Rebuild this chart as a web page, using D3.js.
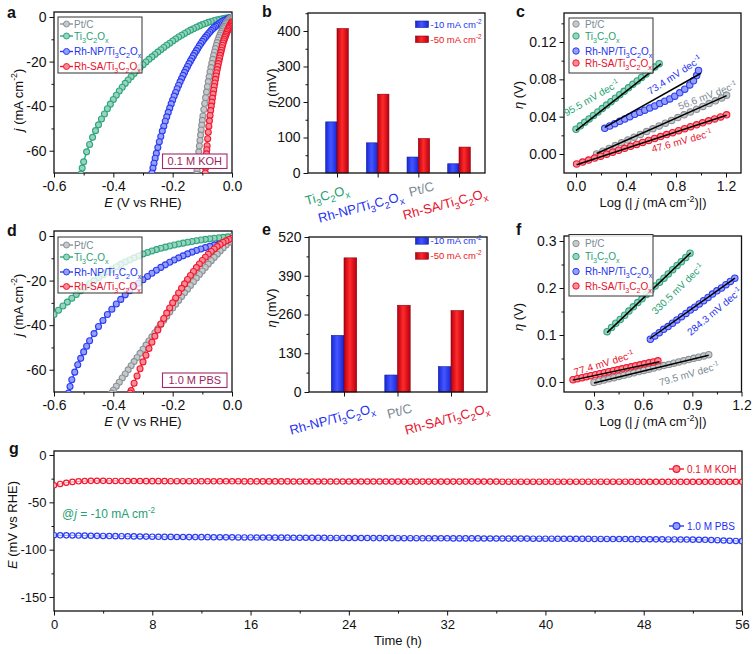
<!DOCTYPE html>
<html><head><meta charset="utf-8">
<script src="https://cdn.jsdelivr.net/npm/d3@7"></script>
<style>body{margin:0;background:#fff}svg{display:block}text{font-family:"Liberation Sans",Arial,sans-serif}</style>
</head><body><svg id="chart" width="756" height="654"></svg>
<script>
// ---------------- DATA ----------------
const seriesKeys = ["pt","ti","np","sa"];
const seriesNames = {pt:"Pt/C", ti:"Ti_{3}C_{2}O_{x}", np:"Rh-NP/Ti_{3}C_{2}O_{x}", sa:"Rh-SA/Ti_{3}C_{2}O_{x}"};
// panel a: LSV in 0.1 M KOH  [E (V), j (mA cm-2)]
const aPt=[[-0.002,-0.3],[-0.005,-0.6],[-0.008,-0.9],[-0.011,-1.3],[-0.014,-1.8],[-0.017,-2.3],[-0.020,-2.9],[-0.023,-3.5],[-0.026,-4.2],[-0.029,-4.9],[-0.032,-5.7],[-0.035,-6.5],[-0.038,-7.3],[-0.041,-8.2],[-0.044,-9.2],[-0.047,-10.3],[-0.050,-11.5],[-0.053,-12.8],[-0.056,-14.2],[-0.059,-15.7],[-0.062,-17.3],[-0.065,-19.0],[-0.068,-20.8],[-0.071,-22.7],[-0.074,-24.7],[-0.077,-26.8],[-0.080,-29.0],[-0.083,-31.3],[-0.086,-33.7],[-0.089,-36.2],[-0.092,-38.8],[-0.095,-41.5],[-0.098,-44.4],[-0.100,-46.4],[-0.102,-48.5],[-0.104,-50.7],[-0.106,-53.0],[-0.108,-55.4],[-0.110,-57.9],[-0.112,-60.5],[-0.114,-63.2],[-0.116,-66.0],[-0.118,-68.9],[-0.119,-70.5]];
const aTi=[[0,-0.1],[-0.01,-0.3],[-0.02,-0.5],[-0.03,-0.75],[-0.04,-1.0],[-0.05,-1.3],[-0.06,-1.6],[-0.07,-2.0],[-0.08,-2.4],[-0.09,-2.9],[-0.10,-3.4],[-0.11,-4.0],[-0.12,-4.6],[-0.13,-5.25],[-0.14,-5.9],[-0.15,-6.65],[-0.16,-7.4],[-0.17,-8.2],[-0.18,-9.0],[-0.19,-9.9],[-0.20,-10.8],[-0.21,-11.75],[-0.22,-12.7],[-0.23,-13.7],[-0.24,-14.7],[-0.25,-15.75],[-0.26,-16.8],[-0.27,-17.9],[-0.28,-19.0],[-0.29,-20.2],[-0.30,-21.4],[-0.31,-22.7],[-0.32,-24.0],[-0.33,-25.4],[-0.34,-26.8],[-0.35,-28.3],[-0.36,-29.8],[-0.37,-31.5],[-0.38,-33.2],[-0.39,-35.1],[-0.40,-37.0],[-0.41,-39.1],[-0.42,-41.2],[-0.43,-43.5],[-0.44,-45.8],[-0.45,-48.4],[-0.46,-51.0],[-0.47,-54.0],[-0.48,-57.2],[-0.49,-60.5],[-0.50,-65.0],[-0.505,-67.8],[-0.509,-70.5]];
const aNP=[[-0.005,-0.3],[-0.010,-0.55],[-0.015,-0.8],[-0.020,-1.1],[-0.025,-1.4],[-0.030,-1.75],[-0.035,-2.1],[-0.040,-2.55],[-0.045,-3.0],[-0.050,-3.55],[-0.055,-4.1],[-0.060,-4.7],[-0.065,-5.3],[-0.070,-6.0],[-0.075,-6.7],[-0.080,-7.5],[-0.085,-8.3],[-0.090,-9.15],[-0.095,-10.0],[-0.100,-10.95],[-0.105,-11.9],[-0.110,-12.95],[-0.115,-14.0],[-0.120,-15.1],[-0.125,-16.2],[-0.130,-17.35],[-0.135,-18.5],[-0.140,-19.7],[-0.145,-20.9],[-0.150,-22.2],[-0.155,-23.5],[-0.160,-24.85],[-0.165,-26.2],[-0.170,-27.65],[-0.175,-29.1],[-0.180,-30.65],[-0.185,-32.2],[-0.190,-33.85],[-0.195,-35.5],[-0.200,-37.25],[-0.205,-39.0],[-0.210,-40.9],[-0.215,-42.8],[-0.220,-44.8],[-0.225,-46.8],[-0.230,-49.0],[-0.235,-51.2],[-0.240,-53.6],[-0.245,-56.0],[-0.250,-58.6],[-0.255,-61.2],[-0.259,-63.4],[-0.263,-65.6],[-0.2665,-67.8],[-0.270,-70.0]];
const aSA=[[0.000,-2.2],[-0.002,-2.6],[-0.004,-3.1],[-0.006,-3.6],[-0.008,-4.1],[-0.010,-4.7],[-0.012,-5.2],[-0.014,-5.8],[-0.016,-6.4],[-0.018,-7.1],[-0.020,-7.8],[-0.022,-8.5],[-0.024,-9.2],[-0.026,-10.0],[-0.028,-10.8],[-0.030,-11.7],[-0.032,-12.7],[-0.034,-13.8],[-0.036,-14.9],[-0.038,-16.0],[-0.040,-17.2],[-0.042,-18.4],[-0.044,-19.6],[-0.046,-20.9],[-0.048,-22.2],[-0.050,-23.6],[-0.052,-25.0],[-0.054,-26.5],[-0.056,-28.0],[-0.058,-29.6],[-0.060,-31.2],[-0.062,-32.9],[-0.064,-34.6],[-0.066,-36.4],[-0.068,-38.2],[-0.070,-40.0],[-0.072,-42.0],[-0.074,-44.2],[-0.076,-46.6],[-0.078,-49.0],[-0.080,-51.7],[-0.082,-54.6],[-0.084,-57.8],[-0.085,-59.6],[-0.086,-61.4],[-0.087,-63.4],[-0.088,-65.4],[-0.089,-67.6],[-0.090,-70.0]];
// panel b: overpotentials (mV) in 0.1 M KOH
const bCats=["ti","np","pt","sa"];
const b10=[144,85,45,26];
const b50=[407,222,97,73];
// panel c: Tafel, 0.1 M KOH [log|j|, eta (V)]
const cPt=[[0.165,0.000],[0.215,0.003],[0.265,0.006],[0.315,0.009],[0.365,0.012],[0.415,0.015],[0.465,0.018],[0.515,0.021],[0.565,0.024],[0.615,0.027],[0.665,0.030],[0.715,0.033],[0.765,0.036],[0.815,0.039],[0.865,0.042],[0.915,0.045],[0.965,0.048],[1.015,0.051],[1.065,0.054],[1.115,0.057],[1.165,0.060],[1.205,0.063]];
const cTi=[[0,0.0265],[0.035,0.0302],[0.07,0.0339],[0.105,0.0376],[0.14,0.0413],[0.175,0.045],[0.21,0.0487],[0.245,0.0524],[0.28,0.0561],[0.315,0.0598],[0.35,0.0635],[0.385,0.0672],[0.42,0.0709],[0.455,0.0746],[0.49,0.0783],[0.525,0.082],[0.56,0.0857],[0.595,0.0894],[0.63,0.0931],[0.665,0.0968]];
const cNP=[[0.23,0.0275],[0.27,0.030],[0.31,0.0325],[0.35,0.035],[0.39,0.0375],[0.43,0.040],[0.47,0.0425],[0.51,0.0447],[0.55,0.047],[0.59,0.0492],[0.63,0.0515],[0.67,0.054],[0.71,0.0565],[0.75,0.059],[0.79,0.062],[0.83,0.0655],[0.87,0.0695],[0.91,0.074],[0.94,0.0785],[0.965,0.084],[0.98,0.0895]];
const cSA=[[0.005,-0.0107],[0.053,-0.0086],[0.101,-0.0065],[0.149,-0.0044],[0.197,-0.0023],[0.245,-0.0002],[0.293,0.0019],[0.341,0.0040],[0.389,0.0061],[0.437,0.0082],[0.485,0.0103],[0.533,0.0124],[0.581,0.0145],[0.629,0.0166],[0.677,0.0187],[0.725,0.0208],[0.773,0.0229],[0.821,0.0250],[0.869,0.0271],[0.917,0.0292],[0.965,0.0313],[1.013,0.0334],[1.061,0.0355],[1.109,0.0376],[1.157,0.0397],[1.205,0.0420]];
const cFits={pt:[[0.165,0.0005],[1.205,0.0625]], ti:[[0.0,0.025],[0.68,0.0965]], np:[[0.23,0.0285],[1.0,0.0865]], sa:[[0.005,-0.0115],[1.205,0.0415]]};
const cSlopes={ti:"95.5", np:"73.4", pt:"56.6", sa:"47.6"};
// panel d: LSV in 1.0 M PBS
const dPt=[[0,-1.5],[-0.01,-2.75],[-0.02,-4.0],[-0.03,-5.35],[-0.04,-6.7],[-0.05,-8.15],[-0.06,-9.6],[-0.07,-11.1],[-0.08,-12.6],[-0.09,-14.15],[-0.10,-15.7],[-0.11,-17.3],[-0.12,-18.9],[-0.13,-20.55],[-0.14,-22.2],[-0.15,-23.85],[-0.16,-25.5],[-0.17,-27.2],[-0.18,-28.9],[-0.19,-30.6],[-0.20,-32.3],[-0.21,-34.15],[-0.22,-36.0],[-0.23,-37.85],[-0.24,-39.7],[-0.25,-41.55],[-0.26,-43.4],[-0.27,-45.25],[-0.28,-47.1],[-0.29,-48.95],[-0.30,-50.8],[-0.31,-52.65],[-0.32,-54.5],[-0.33,-56.35],[-0.34,-58.2],[-0.35,-60.05],[-0.36,-61.9],[-0.37,-63.75],[-0.38,-65.6],[-0.39,-67.4],[-0.40,-69.2],[-0.406,-70.5]];
const dTi=[[0,-0.2],[-0.015,-0.4],[-0.03,-0.6],[-0.045,-0.8],[-0.06,-1.0],[-0.075,-1.25],[-0.09,-1.5],[-0.105,-1.8],[-0.12,-2.1],[-0.135,-2.45],[-0.15,-2.8],[-0.165,-3.2],[-0.18,-3.6],[-0.195,-4.05],[-0.21,-4.5],[-0.225,-5.0],[-0.24,-5.5],[-0.255,-6.1],[-0.27,-6.7],[-0.285,-7.4],[-0.30,-8.1],[-0.315,-8.95],[-0.33,-9.8],[-0.345,-10.75],[-0.36,-11.7],[-0.375,-12.75],[-0.39,-13.8],[-0.405,-14.95],[-0.42,-16.1],[-0.435,-17.4],[-0.45,-18.7],[-0.465,-20.1],[-0.48,-21.5],[-0.495,-23.05],[-0.51,-24.6],[-0.525,-26.25],[-0.54,-27.9],[-0.555,-29.65],[-0.57,-31.4],[-0.585,-33.3],[-0.60,-35.2]];
const dNP=[[-0.005,-2.5],[-0.015,-2.8],[-0.03,-3.2],[-0.045,-3.65],[-0.06,-4.1],[-0.075,-4.65],[-0.09,-5.2],[-0.105,-5.85],[-0.12,-6.5],[-0.135,-7.25],[-0.15,-8.0],[-0.165,-8.9],[-0.18,-9.8],[-0.195,-10.8],[-0.21,-11.8],[-0.225,-12.95],[-0.24,-14.1],[-0.255,-15.4],[-0.27,-16.7],[-0.285,-18.15],[-0.30,-19.6],[-0.315,-21.2],[-0.33,-22.8],[-0.345,-24.6],[-0.36,-26.4],[-0.375,-28.45],[-0.39,-30.5],[-0.405,-32.85],[-0.42,-35.2],[-0.435,-37.9],[-0.45,-40.6],[-0.465,-43.8],[-0.48,-47.0],[-0.49,-49.5],[-0.50,-52.0],[-0.51,-54.9],[-0.52,-57.8],[-0.53,-61.1],[-0.54,-64.5],[-0.546,-67.5],[-0.551,-70.5]];
const dSA=[[0,-1.0],[-0.01,-1.55],[-0.02,-2.2],[-0.03,-2.95],[-0.04,-3.8],[-0.05,-4.75],[-0.06,-5.8],[-0.07,-6.95],[-0.08,-8.2],[-0.09,-9.55],[-0.10,-11.0],[-0.11,-12.55],[-0.12,-14.2],[-0.13,-15.9],[-0.14,-17.7],[-0.15,-19.55],[-0.16,-21.5],[-0.17,-23.5],[-0.18,-25.6],[-0.19,-27.8],[-0.20,-30.0],[-0.21,-32.3],[-0.22,-34.6],[-0.23,-37.0],[-0.24,-39.5],[-0.25,-42.2],[-0.26,-45.0],[-0.27,-47.7],[-0.28,-50.5],[-0.29,-53.5],[-0.30,-56.5],[-0.31,-59.6],[-0.32,-62.8],[-0.33,-66.1],[-0.34,-69.4],[-0.343,-70.5]];
// panel e: overpotentials (mV) in 1.0 M PBS
const eCats=["np","pt","sa"];
const e10=[190,57,85];
const e50=[450,291,273];
// panel f: Tafel, 1.0 M PBS
const fPt=[[0.30,-0.001],[0.33,0.0016],[0.361,0.0041],[0.391,0.0067],[0.422,0.0093],[0.452,0.0118],[0.483,0.0144],[0.513,0.017],[0.543,0.0195],[0.574,0.0221],[0.604,0.0247],[0.635,0.0272],[0.665,0.0298],[0.696,0.0324],[0.726,0.035],[0.757,0.0375],[0.787,0.0401],[0.817,0.0427],[0.848,0.0452],[0.878,0.0478],[0.909,0.0504],[0.939,0.0529],[0.97,0.0555],[1.0,0.058]];
const fTi=[[0.38,0.107],[0.407,0.116],[0.433,0.125],[0.46,0.133],[0.487,0.142],[0.513,0.151],[0.54,0.160],[0.567,0.169],[0.593,0.177],[0.62,0.186],[0.647,0.195],[0.673,0.204],[0.70,0.212],[0.727,0.221],[0.753,0.230],[0.78,0.239],[0.807,0.248],[0.833,0.256],[0.86,0.265],[0.886,0.274]];
const fNP=[[0.644,0.091],[0.671,0.098],[0.698,0.105],[0.725,0.112],[0.752,0.118],[0.779,0.125],[0.806,0.132],[0.834,0.139],[0.861,0.146],[0.888,0.153],[0.915,0.159],[0.942,0.166],[0.969,0.173],[0.996,0.180],[1.023,0.187],[1.05,0.194],[1.078,0.200],[1.105,0.207],[1.132,0.214],[1.159,0.221]];
const fSA=[[0.172,0.005],[0.199,0.0071],[0.227,0.0092],[0.254,0.0113],[0.281,0.0134],[0.309,0.0155],[0.336,0.0176],[0.363,0.0197],[0.39,0.0218],[0.418,0.0239],[0.445,0.026],[0.472,0.0281],[0.499,0.0302],[0.527,0.0323],[0.554,0.0344],[0.581,0.0365],[0.608,0.0386],[0.636,0.0407],[0.663,0.0428],[0.69,0.045]];
const fFits={pt:[[0.30,-0.002],[1.0,0.057]], ti:[[0.38,0.105],[0.89,0.275]], np:[[0.64,0.092],[1.16,0.221]], sa:[[0.17,0.004],[0.70,0.043]]};
const fSlopes={ti:"330.5", np:"284.3", sa:"77.4", pt:"79.5"};
// panel g: chronopotentiometry @ -10 mA cm-2
const gTime=[0,0.5,1,1.5,2,2.5,3,3.5,4,4.5,5,5.5,6,6.5,7,7.5,8,8.5,9,9.5,10,10.5,11,11.5,12,12.5,13,13.5,14,14.5,15,15.5,16,16.5,17,17.5,18,18.5,19,19.5,20,20.5,21,21.5,22,22.5,23,23.5,24,24.5,25,25.5,26,26.5,27,27.5,28,28.5,29,29.5,30,30.5,31,31.5,32,32.5,33,33.5,34,34.5,35,35.5,36,36.5,37,37.5,38,38.5,39,39.5,40,40.5,41,41.5,42,42.5,43,43.5,44,44.5,45,45.5,46,46.5,47,47.5,48,48.5,49,49.5,50,50.5,51,51.5,52,52.5,53,53.5,54,54.5,55,55.5,56];
const gKOH=[-32.0,-30.6,-29.3,-28.4,-27.8,-27.5,-27.3,-27.3,-27.3,-27.4,
-27.4,-27.4,-27.5,-27.5,-27.5,-27.6,-27.6,-27.6,-27.6,-27.7,
-27.7,-27.7,-27.7,-27.7,-27.8,-27.8,-27.8,-27.8,-27.8,-27.8,
-27.8,-27.9,-27.9,-27.9,-27.9,-27.9,-27.9,-27.9,-27.9,-28.0,
-28.0,-28.0,-28.0,-28.0,-28.0,-28.0,-28.0,-28.0,-28.0,-28.0,
-28.0,-28.0,-28.0,-28.0,-28.0,-28.1,-28.1,-28.1,-28.1,-28.1,
-28.1,-28.1,-28.1,-28.1,-28.1,-28.1,-28.1,-28.1,-28.1,-28.1,
-28.1,-28.1,-28.1,-28.2,-28.2,-28.2,-28.2,-28.2,-28.2,-28.2,
-28.2,-28.2,-28.2,-28.2,-28.2,-28.2,-28.2,-28.2,-28.2,-28.2,
-28.2,-28.2,-28.2,-28.2,-28.3,-28.3,-28.3,-28.3,-28.3,-28.3,
-28.3,-28.3,-28.3,-28.3,-28.3,-28.3,-28.3,-28.3,-28.3,-28.3,
-28.3,-28.3,-28.3];
const gPBS=[-84.7,-84.8,-84.9,-85.0,-85.1,-85.2,-85.3,-85.4,-85.5,-85.6,
-85.7,-85.8,-85.9,-86.0,-86.1,-86.2,-86.3,-86.4,-86.5,-86.5,
-86.6,-86.6,-86.7,-86.7,-86.8,-86.8,-86.9,-86.9,-87.0,-87.0,
-87.1,-87.1,-87.1,-87.2,-87.2,-87.2,-87.3,-87.3,-87.3,-87.4,
-87.4,-87.4,-87.5,-87.5,-87.5,-87.6,-87.6,-87.6,-87.7,-87.7,
-87.7,-87.7,-87.8,-87.8,-87.8,-87.8,-87.9,-87.9,-87.9,-87.9,
-88.0,-88.0,-88.0,-88.0,-88.0,-88.1,-88.1,-88.1,-88.1,-88.1,
-88.2,-88.2,-88.2,-88.2,-88.3,-88.3,-88.3,-88.3,-88.4,-88.4,
-88.4,-88.4,-88.5,-88.5,-88.5,-88.6,-88.6,-88.6,-88.7,-88.7,
-88.7,-88.8,-88.8,-88.8,-88.9,-88.9,-89.0,-89.0,-89.1,-89.1,
-89.2,-89.2,-89.3,-89.3,-89.4,-89.5,-89.6,-89.8,-90.0,-90.3,
-90.6,-90.8,-91.0];

// ---------------- STYLE ----------------
const col = {pt:"#8b9296", ti:"#2ea67c", np:"#2b3cf2", sa:"#f2172f"};
const tcol = {pt:"#7a8a93", ti:"#1f9f73", np:"#1d30f0", sa:"#e8102c"};
const FONT = '"Liberation Sans", Arial, sans-serif';
const svg = d3.select("#chart");
svg.append("rect").attr("width",756).attr("height",654).attr("fill","#fff");
const defs = svg.append("defs");
const light = c => d3.interpolateRgb(c, "#ffffff")(0.5);
const noMinus = f => { const fm = d3.format(f); return v => fm(v).replace("\u2212","-"); };

function rich(textSel, str, fs) {
  const parts = str.split(/(\*[^*]+\*|_\{[^}]*\}|\^\{[^}]*\})/g).filter(s => s !== "");
  let shift = 0;
  parts.forEach(p => {
    let t = p, dy = 0, size = null, it = false;
    if (p.startsWith("*")) { t = p.slice(1,-1); it = true; }
    else if (p.startsWith("_{")) { t = p.slice(2,-1); size = fs*0.72; dy = fs*0.3; }
    else if (p.startsWith("^{")) { t = p.slice(2,-1); size = fs*0.68; dy = -fs*0.4; }
    const ts = textSel.append("tspan").text(t);
    if (dy - shift !== 0) ts.attr("dy", dy - shift);
    shift = dy;
    if (size) ts.attr("font-size", size);
    if (it) ts.attr("font-style", "italic");
  });
  return textSel;
}
function label(g, str, x, y, o={}) {
  const fs = o.fs || 13;
  const t = g.append("text").attr("font-family", FONT).attr("font-size", fs)
    .attr("fill", o.fill || "#111").attr("text-anchor", o.anchor || "middle")
    .attr("font-weight", o.bold ? "bold" : null);
  if (o.rot != null) t.attr("transform", `translate(${x},${y}) rotate(${o.rot})`);
  else t.attr("x", x).attr("y", y);
  if (o.dy) t.attr("dy", o.dy);
  rich(t, str, fs);
  return t;
}
function axes(g, x, y, o) {
  const [l,t,r,b] = o.frame;
  const fs = o.fs || 14;
  g.append("g").attr("transform", `translate(0,${b})`)
    .call(d3.axisBottom(x).tickValues(o.xMaj).tickSize(4.5).tickPadding(4).tickFormat(o.xf || ""));
  if (o.xMin) g.append("g").attr("transform", `translate(0,${b})`)
    .call(d3.axisBottom(x).tickValues(o.xMin).tickSize(2.5).tickFormat(""));
  g.append("g").attr("transform", `translate(${l},0)`)
    .call(d3.axisLeft(y).tickValues(o.yMaj).tickSize(4.5).tickPadding(3).tickFormat(o.yf));
  if (o.yMin) g.append("g").attr("transform", `translate(${l},0)`)
    .call(d3.axisLeft(y).tickValues(o.yMin).tickSize(2.5).tickFormat(""));
  g.selectAll(".domain").remove();
  g.selectAll(".tick line").attr("stroke", "#111").attr("stroke-width", 1);
  g.selectAll(".tick text").attr("font-size", fs).attr("font-family", FONT).attr("fill", "#111");
  g.append("rect").attr("x", l).attr("y", t).attr("width", r-l).attr("height", b-t)
    .attr("fill", "none").attr("stroke", "#111").attr("stroke-width", 1.3);
}
let clipN = 0;
function clip(g, frame) {
  const id = "clip" + (clipN++);
  const [l,t,r,b] = frame;
  defs.append("clipPath").attr("id", id).append("rect").attr("x", l).attr("y", t).attr("width", r-l).attr("height", b-t);
  return g.append("g").attr("clip-path", `url(#${id})`);
}
function series(g, data, x, y, key, r, withLine) {
  if (withLine) g.append("path").datum(data)
    .attr("d", d3.line().x(d => x(d[0])).y(d => y(d[1])))
    .attr("fill", "none").attr("stroke", col[key]).attr("stroke-width", 1.4);
  g.append("g").selectAll("circle").data(data).join("circle")
    .attr("cx", d => x(d[0])).attr("cy", d => y(d[1])).attr("r", r)
    .attr("fill", light(col[key])).attr("stroke", col[key]).attr("stroke-width", 1.1);
}
function lsvLegend(g, x0, y0, rows) {
  g.append("rect").attr("x", x0).attr("y", y0).attr("width", 84).attr("height", 56)
    .attr("fill", "#fff").attr("fill-opacity", 0.78).attr("stroke", "#333").attr("stroke-width", 1);
  seriesKeys.forEach((k, i) => {
    const yy = y0 + rows[i];
    g.append("line").attr("x1", x0+2).attr("x2", x0+15).attr("y1", yy).attr("y2", yy).attr("stroke", col[k]).attr("stroke-width", 1.4);
    g.append("circle").attr("cx", x0+8.5).attr("cy", yy).attr("r", 3).attr("fill", light(col[k])).attr("stroke", col[k]);
    label(g, seriesNames[k], x0+16, yy+3.5, {fs:10, fill:tcol[k], anchor:"start"});
  });
}
function tafelLegend(g, x0, y0, rows) {
  g.append("rect").attr("x", x0).attr("y", y0).attr("width", 84).attr("height", rows[3]+10)
    .attr("fill", "#fff").attr("fill-opacity", 0.85).attr("stroke", "#333").attr("stroke-width", 1);
  seriesKeys.forEach((k, i) => {
    const yy = y0 + rows[i];
    g.append("circle").attr("cx", x0+7).attr("cy", yy).attr("r", 3.2).attr("fill", light(col[k])).attr("stroke", col[k]);
    label(g, seriesNames[k], x0+16, yy+3.5, {fs:10, fill:tcol[k], anchor:"start"});
  });
}
function barLegend(g, x0, y0, dy) {
  [["-10 mA cm^{-2}", "#2236f0"], ["-50 mA cm^{-2}", "#ee1520"]].forEach((d, i) => {
    g.append("rect").attr("x", x0).attr("y", y0 + i*dy).attr("width", 13).attr("height", 6.5)
      .attr("fill", i ? "url(#gRed)" : "url(#gBlue)").attr("stroke", i ? "#8a0010" : "#10208a").attr("stroke-width", 0.6);
    label(g, d[0], x0+15, y0 + i*dy + 6.5, {fs:9.5, fill:d[1], anchor:"start"});
  });
}
[["gBlue","#1526d8","#4556ff"],["gRed","#b80010","#ff2a2a"]].forEach(([id,a,b]) => {
  const lg = defs.append("linearGradient").attr("id", id).attr("x1","0").attr("x2","1").attr("y1","0").attr("y2","0");
  lg.append("stop").attr("offset","0%").attr("stop-color",a);
  lg.append("stop").attr("offset","45%").attr("stop-color",b);
  lg.append("stop").attr("offset","100%").attr("stop-color",a);
});

// ---------- LSV panels (a, d) ----------
function lsvPanel(frame, yRange, data, legendY, legendRows, boxText, boxY) {
  const g = svg.append("g");
  const x = d3.scaleLinear().domain([-0.6, 0]).range([frame[0], frame[2]]);
  const y = d3.scaleLinear().domain([-70, 0]).range(yRange);
  axes(g, x, y, {frame, xMaj:[-0.6,-0.4,-0.2,0], xMin:[-0.5,-0.3,-0.1], yMaj:[-60,-40,-20,0], yMin:[-50,-30,-10],
    xf: noMinus(".1f"), yf: noMinus("d")});
  const cg = clip(g, frame);
  ["ti","np","pt","sa"].forEach(k => series(cg, data[k], x, y, k, 3, true));
  lsvLegend(g, frame[0]+4, legendY, legendRows);
  g.append("rect").attr("x", 162.5).attr("y", boxY).attr("width", 64.5).attr("height", 14.5)
    .attr("fill", "#fff").attr("stroke", "#a3286a").attr("stroke-width", 1.1);
  label(g, boxText, 194.8, boxY + 11.2, {fs:11, fill:"#9a1f60"});
  return g;
}
lsvPanel([54,12,232,173], [173,17], {pt:aPt, ti:aTi, np:aNP, sa:aSA}, 17, [7,19,34.5,49.5], "0.1 M KOH", 154);
lsvPanel([54,231,232,392], [392,236], {pt:dPt, ti:dTi, np:dNP, sa:dSA}, 237, [8,20,35,49.5], "1.0 M PBS", 373);

// ---------- bar panels (b, e) ----------
function barPanel(frame, cats, v10, v50, xRange, yMax, yMaj, yMin, bw, catOff, legY) {
  const g = svg.append("g");
  const x = d3.scalePoint().domain(cats).range(xRange);
  const y = d3.scaleLinear().domain([0, yMax]).range([frame[3], frame[1]]);
  const sub = d3.scaleBand().domain(["10","50"]).range([-bw, bw]);
  const rows = cats.map((c, i) => ({c, v10: v10[i], v50: v50[i]}));
  const bars = g.append("g");
  rows.forEach(d => {
    [["10", d.v10, "url(#gBlue)", "#1020a0"], ["50", d.v50, "url(#gRed)", "#8a0010"]].forEach(([s, v, f, st]) => {
      bars.append("rect").attr("x", x(d.c) + sub(s)).attr("width", sub.bandwidth())
        .attr("y", y(v)).attr("height", y(0) - y(v)).attr("fill", f).attr("stroke", st).attr("stroke-width", 0.6);
    });
  });
  axes(g, x, y, {frame, xMaj: cats, yMaj, yMin, xf: "", yf: noMinus("d")});
  cats.forEach((c, i) => {
    label(g, seriesNames[c], x(c) + catOff[i][0], frame[3] + catOff[i][1], {fs:13, fill:tcol[c], rot:-15, dy:"0.35em"});
  });
  barLegend(g, 415.5, legY, 15);
  return g;
}
barPanel([308,13,485,173], bCats, b10, b50, [337,459], 450.7, [0,100,200,300,400], [50,150,250,350,450], 11.3,
  [[-10,22],[-17,34],[3,16],[-14,31]], 21);
barPanel([309,237,487,392], eCats, e10, e50, [344,451], 520, [0,130,260,390,520], [65,195,325,455], 12.7,
  [[-12,27],[2,19],[-4,27]], 237.7);

// ---------- Tafel panels (c, f) ----------
function tafelPanel(frame, xD, xR, yD, yR, xMaj, xMin, yMaj, yMin, xf, yf, data, fits, slopes, slopePos, legY, legRows) {
  const g = svg.append("g");
  const x = d3.scaleLinear().domain(xD).range(xR);
  const y = d3.scaleLinear().domain(yD).range(yR);
  axes(g, x, y, {frame, xMaj, xMin, yMaj, yMin, xf, yf});
  const cg = clip(g, frame);
  seriesKeys.forEach(k => series(cg, data[k], x, y, k, 3.2, false));
  seriesKeys.forEach(k => cg.append("line")
    .attr("x1", x(fits[k][0][0])).attr("y1", y(fits[k][0][1]))
    .attr("x2", x(fits[k][1][0])).attr("y2", y(fits[k][1][1]))
    .attr("stroke", "#000").attr("stroke-width", 1.5));
  seriesKeys.forEach(k => {
    const p = slopePos[k];
    label(g, slopes[k] + " mV dec^{-1}", x(p[0]), y(p[1]), {fs:10, fill:tcol[k], rot:p[2], dy:"0.35em"});
  });
  tafelLegend(g, 569, legY, legRows);
  return g;
}
tafelPanel([564,13,741,173], [0,1.2], [576,726], [0,0.12], [154,42], [0,0.4,0.8,1.2], [0.2,0.6,1.0], [0,0.04,0.08,0.12], [0.02,0.06,0.10,0.14],
  noMinus(".1f"), noMinus(".2f"), {pt:cPt, ti:cTi, np:cNP, sa:cSA}, cFits, cSlopes,
  {ti:[0.125,0.060,-30], np:[0.788,0.0845,-33], pt:[1.052,0.0625,-21], sa:[0.846,0.0140,-15.5]}, 18, [6,18,33,45]);
tafelPanel([564,236,741.5,392], [0.3,1.2], [594,741.5], [0,0.3], [382,241], [0.3,0.6,0.9,1.2], [0.45,0.75,1.05], [0,0.1,0.2,0.3], [0.05,0.15,0.25],
  noMinus(".1f"), noMinus(".1f"), {pt:fPt, ti:fTi, np:fNP, sa:fSA}, fFits, fSlopes,
  {ti:[0.81,0.198,-44], np:[1.035,0.150,-40], sa:[0.36,0.040,-17], pt:[0.88,0.017,-16]}, 234.5, [9,22,37,51.5]);

// ---------- panel g ----------
(function(){
  const frame = [54,451,742,611];
  const g = svg.append("g");
  const x = d3.scaleLinear().domain([0,56]).range([54,742]);
  const y = d3.scaleLinear().domain([-150,0]).range([597,455]);
  axes(g, x, y, {frame, xMaj:[0,8,16,24,32,40,48,56], xMin:[4,12,20,28,36,44,52], yMaj:[0,-50,-100,-150], yMin:[-25,-75,-125],
    xf: noMinus("d"), yf: noMinus("d"), fs:13});
  const cg = clip(g, frame);
  [["sa", gKOH], ["np", gPBS]].forEach(([k, vals]) => {
    const data = gTime.map((t, i) => [t, vals[i]]);
    cg.append("path").datum(data).attr("d", d3.line().x(d => x(d[0])).y(d => y(d[1])))
      .attr("fill","none").attr("stroke", col[k]).attr("stroke-width", 1.2);
    cg.append("g").selectAll("circle").data(data).join("circle")
      .attr("cx", d => x(d[0])).attr("cy", d => y(d[1])).attr("r", 2.7)
      .attr("fill", "#fff").attr("fill-opacity", 0.55).attr("stroke", col[k]).attr("stroke-width", 1.2);
  });
  [["0.1 M KOH","sa",469],["1.0 M PBS","np",526]].forEach(([t,k,yy]) => {
    g.append("line").attr("x1",669).attr("x2",684).attr("y1",yy).attr("y2",yy).attr("stroke",col[k]).attr("stroke-width",1.4);
    g.append("circle").attr("cx",676.5).attr("cy",yy).attr("r",3.4).attr("fill",light(col[k])).attr("stroke",col[k]).attr("stroke-width",1.2);
    label(g, t, 687, yy+3.6, {fs:10, fill:tcol[k], anchor:"start"});
  });
  label(g, "@*j* = -10 mA cm^{-2}", 62, 518, {fs:12, fill:"#1f9f73", anchor:"start"});
  label(g, "Time (h)", 398, 645, {fs:13});
  label(g, "*E* (mV vs RHE)", 12, 525, {fs:13, rot:-90, dy:"0.35em"});
})();

// ---------- axis titles & panel letters ----------
const T = svg.append("g");
label(T, "*E* (V vs RHE)", 143, 207, {fs:13});
label(T, "*E* (V vs RHE)", 143, 426, {fs:13});
label(T, "Log (| *j* (mA cm^{-2})|)", 653, 207, {fs:13});
label(T, "Log (| *j* (mA cm^{-2})|)", 653, 426, {fs:13});
label(T, "*j* (mA cm^{-2})", 18, 100, {fs:13, rot:-90, dy:"0.35em"});
label(T, "*j* (mA cm^{-2})", 18, 305, {fs:13, rot:-90, dy:"0.35em"});
label(T, "*η* (mV)", 271, 88, {fs:13, rot:-90, dy:"0.35em"});
label(T, "*η* (mV)", 271, 308, {fs:13, rot:-90, dy:"0.35em"});
label(T, "*η* (V)", 518, 95, {fs:13, rot:-90, dy:"0.35em"});
label(T, "*η* (V)", 518, 317, {fs:13, rot:-90, dy:"0.35em"});
[["a",7,18],["b",262,17],["c",516,17],["d",7,236],["e",262,235],["f",516,235],["g",9,454]].forEach(([t,x,y]) =>
  label(T, t, x, y, {fs:16, bold:true, anchor:"start"}));
</script></body></html>
